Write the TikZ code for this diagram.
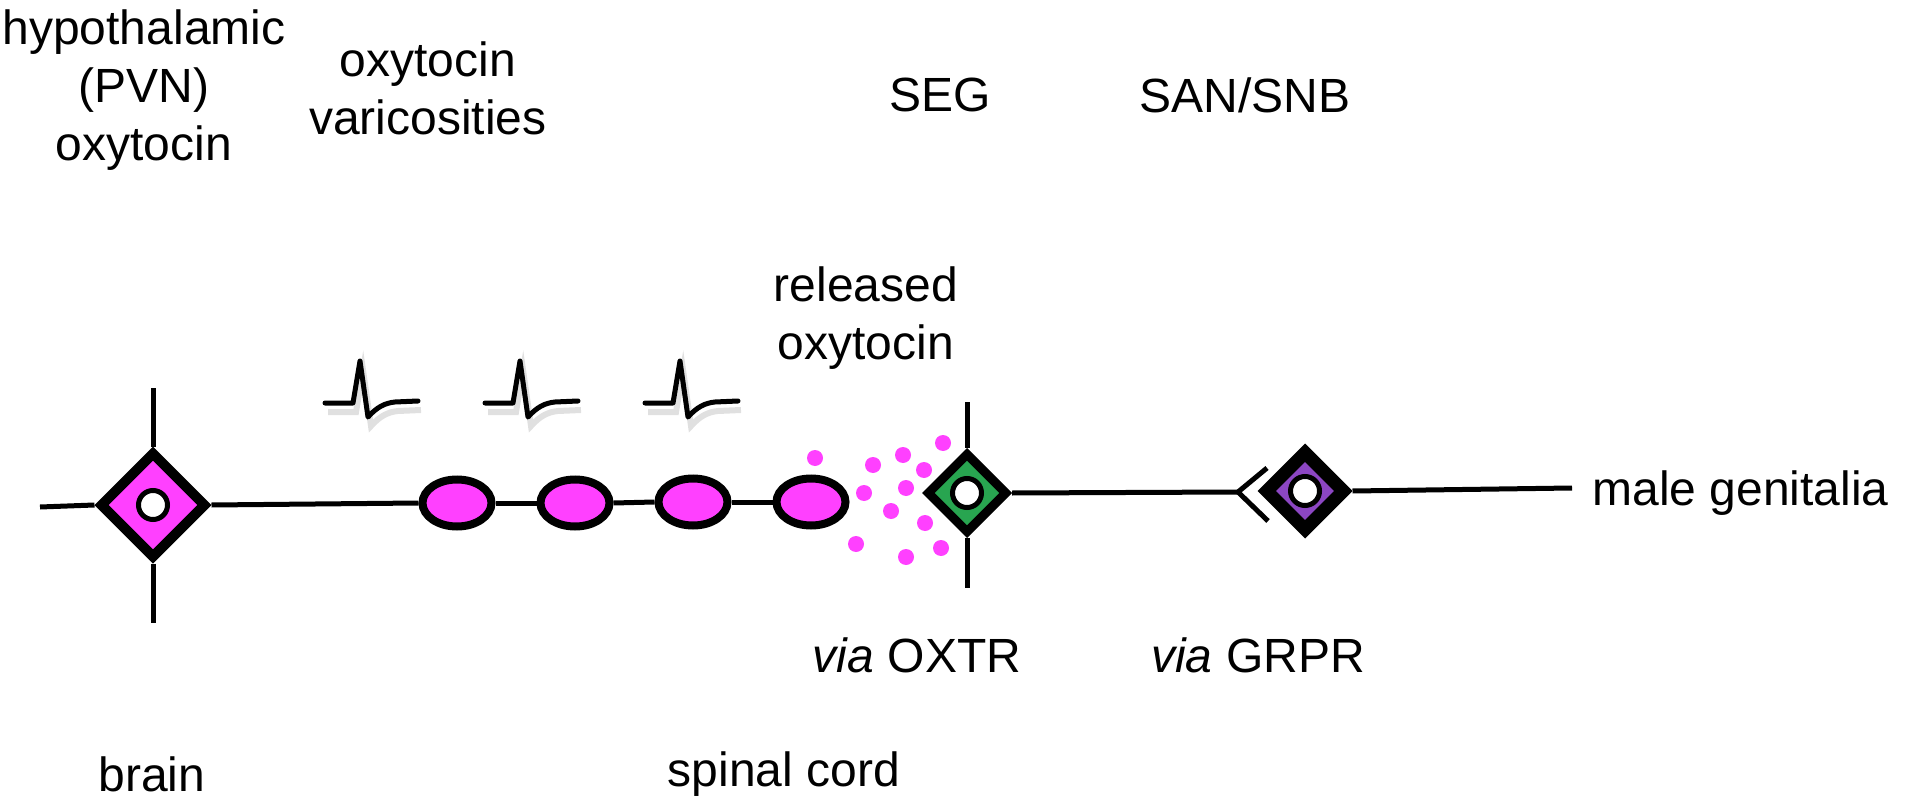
\documentclass[tikz,border=0pt]{standalone}
\usepackage{fontspec}
\setmainfont{Liberation Sans}
\usetikzlibrary{calc, shapes.geometric, positioning}

\definecolor{oxypink}{RGB}{255,64,255}
\definecolor{oxtrgreen}{RGB}{40,165,80}
\definecolor{grprpurple}{RGB}{140,70,195}

\begin{document}
\begin{tikzpicture}[
    x = 1pt, y = -1pt, line width = 5pt,
    every node/.style = {inner sep = 0pt, font = \fontsize{48}{58}\selectfont},
    soma/.style = {draw, diamond, line width = 10pt, minimum size = #1},
    hole/.style = {draw, circle, fill = white, line width = 5pt, minimum size = 29pt},
    bouton/.style = {draw, ellipse, fill = oxypink, line width = 8pt,
      minimum width = 69pt, minimum height = 47pt},
    puff/.style = {circle, fill = oxypink, minimum size = 16pt},
    txt/.style = {align = center},
    spike/.pic = {
      \draw[black!12, line width = 6pt, shift = {(3,9)}]
        (0,0) -- (28,0) -- (35,-42) -- (43,14) .. controls (52,4) and (60,0) .. (70,-1) -- (93,-2);
      \draw[line width = 5pt, line join = round, line cap = round]
        (0,0) -- (28,0) -- (35,-42) -- (43,14) .. controls (52,4) and (60,0) .. (70,-1) -- (93,-2);
    }
  ]
  \useasboundingbox (0,0) rectangle (1920,805);

  % cells
  \node[soma = 107pt, fill = oxypink] (pvn) at (153,505) {};
  \node[hole] (pvnhole) at (pvn.center) {};
  \node[bouton] (var1) at (457,503) {};
  \node[bouton] (var2) at (575,503) {};
  \node[bouton] (var3) at (693,502) {};
  \node[bouton] (var4) at (811,502) {};
  \node[soma = 81pt, fill = oxtrgreen, line width = 9pt] (seg) at (967,493) {};
  \node[hole] (seghole) at (seg.center) {};
  \node[soma = 82pt, fill = grprpurple, line width = 13pt] (san) at (1305,491) {};
  \node[hole] (sanhole) at (san.center) {};

  \coordinate (axonL) at (40,507);
  \coordinate (axonR) at (1572,488);
  \coordinate (pvnup) at (153,388);
  \coordinate (pvndown) at (153,623);
  \coordinate (segup) at (967,402);
  \coordinate (segdown) at (967,588);
  \coordinate (chevtip) at (1238,492);

  % wiring
  \draw (axonL) -- (pvn.west);
  \draw (pvnup) -- (pvn.north);
  \draw (pvn.south) -- (pvndown);
  \draw (pvn.east) -- (var1.west);
  \draw (var1.east) -- (var2.west);
  \draw (var2.east) -- (var3.west);
  \draw (var3.east) -- (var4.west);
  \draw (segup) -- (seg.north);
  \draw (seg.south) -- (segdown);
  \draw (seg.east) -- (chevtip);
  \draw[line width = 5pt] ($(chevtip)+(29,-24)$) -- (chevtip) -- ($(chevtip)+(30,29)$);
  \draw (san.east) -- (axonR);

  % spikes
  \pic at (325,403) {spike};
  \pic at (485,403) {spike};
  \pic at (645,403) {spike};

  % released oxytocin
  \begin{scope}[every node/.style = {puff}]
    \node (p1) at (815,458) {};
    \node (p2) at (873,465) {};
    \node (p3) at (903,455) {};
    \node (p4) at (943,443) {};
    \node (p5) at (924,470) {};
    \node (p6) at (864,493) {};
    \node (p7) at (906,488) {};
    \node (p8) at (891,511) {};
    \node (p9) at (925,523) {};
    \node (p10) at (856,544) {};
    \node (p11) at (906,557) {};
    \node (p12) at (941,548) {};
  \end{scope}

  % Labels
  \node[txt] (pvnlab) at (144,90) {hypothalamic\\(PVN)\\oxytocin};
  \node[txt] (varlab) at (428,88) {oxytocin\\varicosities};
  \node[txt] (seglab) at (940,95) {SEG};
  \node[txt] (sanlab) at (1245,95) {SAN/SNB};
  \node[txt] (rellab) at (866,318) {released\\oxytocin};
  \node[txt] (oxtrlab) at (917,655) {\textit{via} OXTR};
  \node[txt] (grprlab) at (1258,655) {\textit{via} GRPR};
  \node[txt] (brainlab) at (152,774) {brain};
  \node[txt] (cordlab) at (784,774) {spinal cord};
  \node[anchor = base west] (genlab) at (1590,505) {male genitalia};

\end{tikzpicture}
\end{document}
